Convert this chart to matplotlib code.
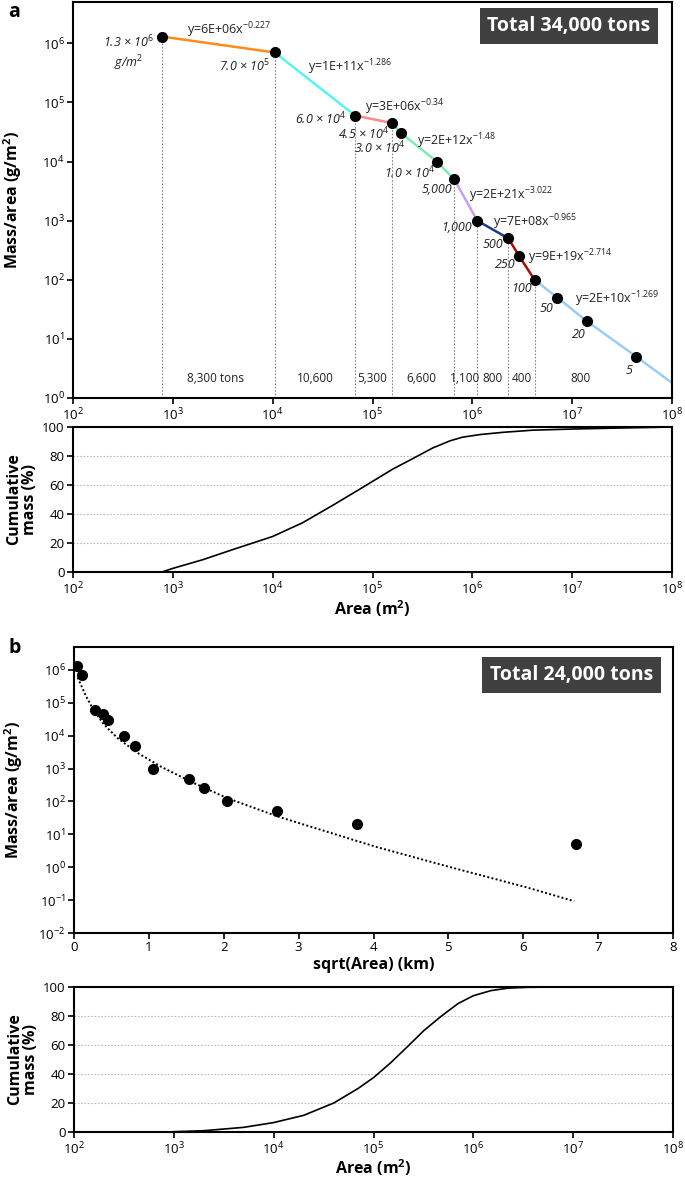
import numpy as np
import matplotlib
matplotlib.use('Agg')
import matplotlib.pyplot as plt
from matplotlib.ticker import NullLocator, FixedLocator
from matplotlib.transforms import blended_transform_factory

plt.rcParams['font.family'] = ['Open Sans', 'DejaVu Sans']
plt.rcParams['mathtext.fontset'] = 'custom'
plt.rcParams['mathtext.rm'] = 'Open Sans'
plt.rcParams['mathtext.it'] = 'Open Sans:italic'
plt.rcParams['mathtext.bf'] = 'Open Sans:bold'

# ---- data ----
area = [780, 1.05e4, 6.7e4, 1.55e5, 1.95e5, 4.4e5, 6.6e5, 1.12e6, 2.3e6, 2.95e6, 4.2e6, 7.1e6, 1.4e7, 4.4e7]
mass = [1.3e6, 7.0e5, 6.0e4, 4.5e4, 3.0e4, 1.0e4, 5000, 1000, 500, 250, 100, 50, 20, 5]
point_labels = ['1.3 × 10$^{\\mathit{6}}$\ng/m$^{\\mathit{2}}$', '7.0 × 10$^{\\mathit{5}}$',
                '6.0 × 10$^{\\mathit{4}}$', '4.5 × 10$^{\\mathit{4}}$', '3.0 × 10$^{\\mathit{4}}$',
                '1.0 × 10$^{\\mathit{4}}$', '5,000', '1,000', '500', '250', '100', '50', '20', '5']

# fitted segments: start index, end index
seg_idx = [(0, 1), (1, 2), (2, 3), (3, 6), (6, 7), (7, 8), (8, 10), (10, 13)]
equations = ['y=6E+06x$^{-0.227}$', 'y=1E+11x$^{-1.286}$', 'y=3E+06x$^{-0.34}$', 'y=2E+12x$^{-1.48}$',
             'y=2E+21x$^{-3.022}$', 'y=7E+08x$^{-0.965}$', 'y=9E+19x$^{-2.714}$', 'y=2E+10x$^{-1.269}$']
tail_area, tail_mass = 1e8, 1.8   # last fit line runs out to the edge

split_idx = [0, 1, 2, 3, 6, 7, 8, 10]
tons = ['8,300 tons', '10,600', '5,300', '6,600', '1,100', '800', '400', '800']

cum_a_area = [780, 1e3, 2e3, 4e3, 1e4, 2e4, 4e4, 7e4, 1e5, 1.6e5, 2.5e5, 4e5, 6e5, 8e5,
              1.2e6, 2e6, 4e6, 1e7, 3e7, 1e8]
cum_a_pct = [0, 2.5, 8.5, 15.5, 24.5, 34, 46, 56, 62.5, 71, 78, 85.5, 90.5, 93,
             94.8, 96.3, 97.8, 98.6, 99.3, 100]

sqrt_km = [0.04, 0.11, 0.28, 0.39, 0.45, 0.67, 0.82, 1.06, 1.53, 1.73, 2.05, 2.71, 3.78, 6.70]
fit_km = [0.05, 0.07, 0.16, 0.27, 0.40, 0.58, 0.85, 1.16, 1.60, 2.05, 2.72, 3.38, 4.03, 5.03, 6.03, 6.68]
fit_mass = [5.9e5, 4.6e5, 1.6e5, 5.6e4, 2.2e4, 8.5e3, 3.0e3, 1.15e3, 363, 126, 35, 12, 4.2, 1.0, 0.25, 0.093]

cum_b_area = [1e3, 2e3, 5e3, 1e4, 2e4, 4e4, 7e4, 1e5, 1.5e5, 2.2e5, 3.2e5, 4.8e5, 7e5,
              1e6, 1.5e6, 2.2e6, 3.5e6, 8e6]
cum_b_pct = [0.2, 0.9, 3.2, 6.5, 11.5, 20, 30, 37.5, 48, 59, 70, 80, 88.5,
             94, 97.5, 99.2, 99.8, 100]

# ---- styles ----
seg_colors = ['#FF8C1A', '#5CF0F0', '#FF8A8A', '#80EBB0', '#C9A0F0', '#1F3A80', '#A01010', '#9CCCF2']
label_off = [(-34, -17), (-5, -14), (-9, -3), (-2, -11), (4, -15), (-2, -11), (-2, -10),
             (-5, -7), (-5, -6), (-4, -8), (-3, -9), (-4, -11), (-1, -13), (-4, -14)]
eq_pos = [(0.190, 0.929), (0.392, 0.836), (0.487, 0.735), (0.575, 0.649),
          (0.661, 0.511), (0.701, 0.445), (0.760, 0.356), (0.838, 0.250)]
ton_x = [2.7e3, 2.7e4, 1.0e5, 3.1e5, 8.4e5, 1.6e6, 3.1e6, 1.2e7]

area_ticks = [10.0 ** k for k in range(2, 9)]

W, H = 685, 1177
fig = plt.figure(figsize=(W / 100, H / 100), dpi=100)


def box(px0, py0, px1, py1):
    return [px0 / W, 1 - py1 / H, (px1 - px0) / W, (py1 - py0) / H]


ax1 = fig.add_axes(box(73, 2, 672, 398))
ax2 = fig.add_axes(box(73, 427, 672, 572))
ax3 = fig.add_axes(box(74, 647, 673, 933))
ax4 = fig.add_axes(box(74, 987, 673, 1132))

for ax in (ax1, ax2, ax3, ax4):
    for s in ax.spines.values():
        s.set_linewidth(1.5)
    ax.tick_params(direction='out', length=4, width=1.2, labelsize=9.5, pad=2)

# ---- panel a, top ----
for (i0, i1), c in zip(seg_idx, seg_colors):
    xs = list(area[i0:i1 + 1])
    ys = list(mass[i0:i1 + 1])
    if i1 == len(area) - 1:
        xs.append(tail_area)
        ys.append(tail_mass)
    ax1.plot(xs, ys, color=c, lw=1.8, zorder=2)

ax1.vlines([area[i] for i in split_idx], 1, [mass[i] for i in split_idx],
           colors='#888888', linestyles=(0, (1.5, 1.5)), lw=0.8, zorder=1)
ax1.plot(area, mass, 'o', color='black', ms=7, zorder=3)

for k, (x, y, t, (dx, dy)) in enumerate(zip(area, mass, point_labels, label_off)):
    ax1.annotate(t, (x, y), xytext=(dx, dy), textcoords='offset pixels',
                 ha='center' if k == 0 else 'right', va='center', fontsize=9, style='italic',
                 multialignment='center', color='#222222')

for (fx, fy), eq in zip(eq_pos, equations):
    ax1.text(fx, fy, eq, transform=ax1.transAxes, ha='left', va='center', fontsize=9, color='#222222')

tr = blended_transform_factory(ax1.transData, ax1.transAxes)
for x, t in zip(ton_x, tons):
    ax1.text(x, 0.048, t, transform=tr, ha='center', va='center', fontsize=8.5, color='#222222')

ax1.text(0.828, 0.939, 'Total 34,000 tons', transform=ax1.transAxes, ha='center', va='center',
         color='white', fontsize=14, weight='bold',
         bbox=dict(boxstyle='square,pad=0.4', fc='#404040', ec='none'))

ax1.set_xscale('log')
ax1.set_yscale('log')
ax1.set_xlim(1e2, 1e8)
ax1.set_ylim(1, 5e6)
ax1.xaxis.set_major_locator(FixedLocator(area_ticks))
ax1.yaxis.set_major_locator(FixedLocator([10.0 ** k for k in range(0, 7)]))
ax1.xaxis.set_minor_locator(NullLocator())
ax1.yaxis.set_minor_locator(NullLocator())
ax1.set_ylabel('Mass/area (g/m$^{\\mathbf{2}}$)', fontsize=11.5, weight='bold')
ax1.yaxis.set_label_coords(-0.082, 0.5)
fig.text(8 / W, 1 - 12 / H, 'a', fontsize=14, weight='bold', va='center')

# ---- panel a, cumulative ----
ax2.plot(cum_a_area, cum_a_pct, color='black', lw=1.2)
ax2.set_xscale('log')
ax2.set_xlim(1e2, 1e8)
ax2.set_ylim(0, 100)
ax2.set_yticks([0, 20, 40, 60, 80, 100])
ax2.xaxis.set_major_locator(FixedLocator(area_ticks))
ax2.xaxis.set_minor_locator(NullLocator())
ax2.grid(axis='y', color='#BBBBBB', linestyle=(0, (1.5, 1.5)), lw=0.8)
ax2.set_ylabel('Cumulative\nmass (%)', fontsize=11.5, weight='bold', linespacing=1.0)
ax2.yaxis.set_label_coords(-0.058, 0.5)
ax2.set_xlabel('Area (m$^{\\mathbf{2}}$)', fontsize=11.5, weight='bold', labelpad=1)

# ---- panel b, top ----
ax3.plot(fit_km, fit_mass, color='black', lw=1.4, linestyle=(0, (1, 1.2)), zorder=2)
ax3.plot(sqrt_km, mass, 'o', color='black', ms=7, zorder=3)
ax3.text(0.83, 0.902, 'Total 24,000 tons', transform=ax3.transAxes, ha='center', va='center',
         color='white', fontsize=14, weight='bold',
         bbox=dict(boxstyle='square,pad=0.4', fc='#404040', ec='none'))
ax3.set_yscale('log')
ax3.set_xlim(0, 8)
ax3.set_ylim(1e-2, 5e6)
ax3.set_xticks(range(0, 9))
ax3.yaxis.set_major_locator(FixedLocator([10.0 ** k for k in range(-2, 7)]))
ax3.yaxis.set_minor_locator(NullLocator())
ax3.set_ylabel('Mass/area (g/m$^{\\mathbf{2}}$)', fontsize=11.5, weight='bold')
ax3.yaxis.set_label_coords(-0.082, 0.5)
ax3.set_xlabel('sqrt(Area) (km)', fontsize=11.5, weight='bold', labelpad=2)
fig.text(8 / W, 1 - 648 / H, 'b', fontsize=14, weight='bold', va='center')

# ---- panel b, cumulative ----
ax4.plot(cum_b_area, cum_b_pct, color='black', lw=1.2)
ax4.set_xscale('log')
ax4.set_xlim(1e2, 1e8)
ax4.set_ylim(0, 100)
ax4.set_yticks([0, 20, 40, 60, 80, 100])
ax4.xaxis.set_major_locator(FixedLocator(area_ticks))
ax4.xaxis.set_minor_locator(NullLocator())
ax4.grid(axis='y', color='#BBBBBB', linestyle=(0, (1.5, 1.5)), lw=0.8)
ax4.set_ylabel('Cumulative\nmass (%)', fontsize=11.5, weight='bold', linespacing=1.0)
ax4.yaxis.set_label_coords(-0.058, 0.5)
ax4.set_xlabel('Area (m$^{\\mathbf{2}}$)', fontsize=11.5, weight='bold', labelpad=0)

fig.savefig('out.png', dpi=100)
